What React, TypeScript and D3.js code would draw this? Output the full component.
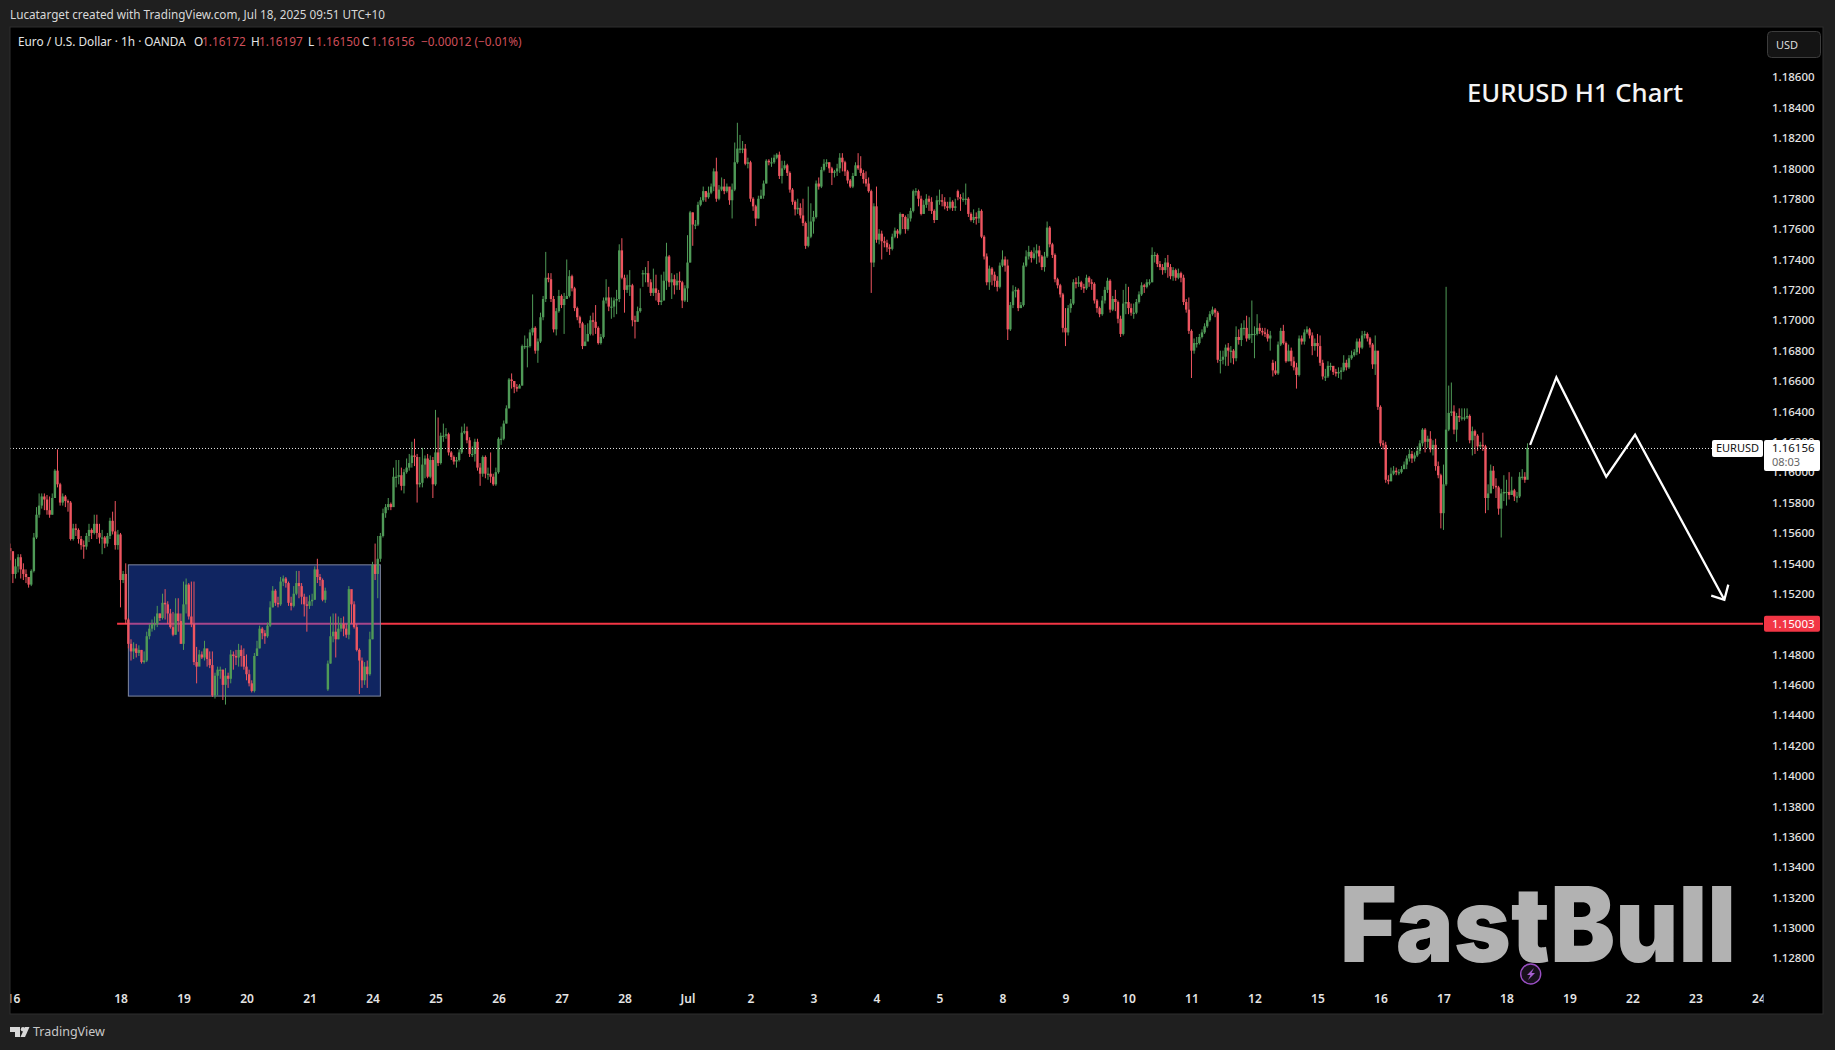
import React, { useEffect, useRef } from 'react';
import * as d3 from 'd3';

// prices are stored as pips above 1.10000 (1.1616 -> 616)
const PIP_BASE = 1.1;
const FIRST_BAR = -42;

const closes = [
  548,533,538,544,536,533,531,526,535,557,
  572,578,584,582,575,572,583,601,592,580,
  584,581,580,556,563,562,556,552,551,558,
  562,560,566,560,557,557,553,558,568,561,
  552,559,529,533,503,487,482,484,481,483,
  475,476,492,497,500,500,507,504,514,513,
  507,498,493,507,502,487,513,526,505,500,
  475,472,480,478,484,477,473,453,466,470,
  470,460,466,464,480,479,478,483,479,472,
  467,461,456,479,484,497,494,492,499,511,
  522,514,513,528,530,527,514,512,520,527,
  525,518,513,512,515,516,536,531,529,516,
  522,474,492,495,490,497,500,497,493,523,
  513,498,483,476,463,472,467,490,539,533,
  543,558,573,577,579,577,597,597,598,591,
  600,603,606,611,610,592,593,605,609,597,
  608,592,613,606,624,624,625,613,610,607,
  608,613,626,627,621,612,612,620,603,599,
  610,599,599,597,592,600,622,622,632,642,
  661,660,656,655,657,683,683,683,692,695,
  680,686,702,714,728,727,714,694,706,716,
  710,714,716,729,721,708,702,698,683,686,
  691,700,699,695,685,689,713,715,709,709,
  713,714,746,728,720,723,723,700,699,706,
  708,731,731,725,718,721,718,712,713,726,
  742,725,727,723,726,725,713,721,738,771,
  763,763,776,779,785,781,784,788,798,780,
  786,788,785,788,779,786,804,813,813,813,
  803,804,780,775,767,780,782,790,805,804,
  804,807,809,795,800,802,797,786,778,773,
  774,769,764,749,755,765,768,790,788,799,
  803,804,800,797,798,800,807,804,798,792,
  788,795,802,800,797,793,790,785,738,775,
  753,757,752,751,748,747,755,759,757,770,
  768,760,767,772,785,785,780,770,776,780,
  778,772,766,779,779,778,775,774,778,774,
  775,781,780,780,780,770,766,768,767,772,
  755,742,725,734,730,726,722,736,740,736,
  694,710,719,720,708,710,736,742,745,741,
  744,746,742,735,742,761,750,743,727,723,
  717,695,692,708,711,725,724,725,722,721,
  728,725,724,713,708,704,713,720,726,707,
  714,712,701,691,711,712,708,705,705,712,
  717,723,722,725,725,743,743,737,735,733,
  738,735,729,733,728,731,728,712,707,693,
  680,685,685,689,692,696,700,704,707,705,
  674,674,676,682,680,680,675,689,687,695,
  695,688,691,691,691,695,693,692,691,688,
  690,667,665,684,693,685,673,680,673,669,
  664,688,686,692,694,690,683,685,683,672,
  663,663,670,670,666,665,666,667,672,669,
  675,677,679,686,682,690,691,688,684,671,
  680,643,619,618,595,594,599,601,600,600,
  602,605,609,612,609,611,614,619,628,620,
  622,615,618,604,598,573,592,628,639,640,
  628,637,636,636,636,637,621,627,624,617,
  618,617,583,586,601,591,590,576,586,587,
  587,585,588,584,584,597,597,595,616,
];

const highs = [
  553,540,543,546,546,540,536,531,536,560,
  577,586,586,586,585,584,586,602,615,593,
  586,585,582,581,566,566,563,558,555,560,
  566,563,572,572,566,562,558,560,570,574,
  581,562,560,535,540,504,490,488,487,486,
  483,482,495,500,503,505,512,507,520,523,
  515,510,508,517,517,507,528,530,527,528,
  528,485,483,482,489,483,482,482,468,472,
  472,470,471,468,483,482,483,487,486,484,
  480,470,463,481,489,499,498,496,501,515,
  525,523,518,531,532,531,528,518,525,535,
  535,527,520,518,519,520,538,543,533,530,
  524,476,505,507,507,505,504,505,500,525,
  520,515,500,484,478,475,476,495,541,553,
  558,560,576,579,583,580,603,608,608,603,
  602,609,612,620,622,612,610,616,611,612,
  611,610,641,636,626,632,629,626,614,611,
  610,615,630,632,630,623,617,622,622,606,
  611,611,603,613,599,603,623,630,634,644,
  662,665,660,658,658,684,690,688,694,717,
  696,688,705,716,745,731,731,716,708,720,
  717,718,740,733,730,722,709,703,699,697,
  698,703,705,710,696,691,715,727,722,715,
  715,720,750,754,730,730,733,724,703,709,
  721,733,735,739,727,734,730,720,730,732,
  751,743,731,730,731,732,726,723,756,772,
  771,766,778,781,788,785,788,790,800,807,
  789,794,793,790,787,790,817,830,822,818,
  816,807,805,781,776,782,786,792,806,806,
  807,809,810,811,805,805,803,798,787,779,
  780,777,780,765,788,777,772,792,794,801,
  806,806,804,801,799,803,810,810,805,799,
  793,797,804,810,808,799,798,794,786,777,
  788,760,759,755,753,750,757,761,760,771,
  770,769,770,774,786,787,786,782,779,783,
  782,781,773,782,786,783,781,778,781,779,
  780,786,783,784,790,781,771,773,771,774,
  773,756,744,736,735,732,729,738,746,742,
  740,712,723,722,721,712,738,746,749,746,
  748,750,749,743,745,765,762,751,744,728,
  724,718,708,710,714,727,728,729,726,724,
  730,729,727,725,714,709,716,722,728,727,
  716,720,713,703,720,724,722,711,711,714,
  719,725,724,727,727,748,745,744,739,737,
  741,743,737,735,734,734,732,730,714,715,
  694,688,689,691,694,698,702,706,709,708,
  706,680,680,684,685,683,681,696,694,698,
  700,703,702,713,696,704,698,695,695,694,
  693,674,673,686,695,697,686,684,682,676,
  672,690,690,694,696,695,692,688,691,690,
  674,668,673,672,669,668,669,669,677,674,
  677,680,681,688,688,693,693,692,689,685,
  690,678,644,621,620,598,603,604,603,602,
  604,607,611,615,614,613,617,621,629,629,
  624,627,621,622,607,599,605,722,657,659,
  644,639,642,642,642,642,638,630,628,625,
  620,626,618,592,605,604,596,591,589,598,
  595,600,597,589,587,600,602,600,619,
];

const lows = [
  542,527,530,534,530,529,527,524,525,534,
  556,570,576,575,572,570,572,583,590,578,
  578,577,574,555,555,558,553,549,543,549,
  554,556,559,556,553,546,550,551,556,559,
  549,549,511,527,500,484,476,477,478,479,
  474,474,475,490,495,496,498,502,503,503,
  500,497,492,493,495,487,483,507,503,498,
  473,461,473,477,476,472,471,452,451,453,
  464,450,447,458,461,470,473,472,472,470,
  463,459,455,455,479,484,490,487,491,498,
  511,512,511,512,525,524,512,509,511,519,
  517,513,505,495,510,512,516,527,525,515,
  514,456,474,488,478,490,495,492,491,490,
  500,497,482,454,458,460,458,466,490,529,
  517,541,557,570,575,575,578,590,592,588,
  586,599,601,603,604,580,590,590,596,596,
  596,583,591,604,605,620,622,611,608,605,
  603,607,612,625,619,610,610,607,601,591,
  597,596,595,593,591,591,599,618,621,632,
  642,655,652,653,656,657,681,669,682,690,
  678,672,685,700,712,725,712,692,690,705,
  708,691,714,715,719,706,700,695,681,684,
  688,690,690,691,684,684,688,711,706,701,
  702,704,712,727,705,718,716,696,688,699,
  705,722,725,722,716,716,713,710,710,713,
  720,722,714,717,720,720,708,712,712,738,
  749,760,762,775,778,778,780,783,785,778,
  779,785,783,784,776,767,785,803,810,810,
  802,800,778,772,762,767,780,780,790,802,
  801,803,806,793,790,799,795,784,776,769,
  770,767,762,747,748,754,757,767,786,787,
  798,801,797,789,794,795,797,798,795,790,
  787,787,795,799,795,790,788,784,718,735,
  751,750,740,748,745,743,746,754,754,756,
  760,757,759,765,771,782,775,769,770,774,
  772,770,764,768,776,775,773,772,773,772,
  772,779,772,778,776,768,765,764,763,764,
  754,740,723,720,723,722,719,721,735,732,
  687,693,708,715,706,708,709,735,740,738,
  740,737,738,733,732,741,748,741,725,721,
  715,692,683,690,705,710,721,722,720,718,
  720,722,720,711,705,702,703,711,718,705,
  706,706,698,689,690,704,704,703,701,704,
  711,716,718,721,723,725,738,735,733,730,
  731,728,727,726,726,727,725,710,705,691,
  662,678,682,684,688,691,695,699,703,702,
  672,665,671,670,670,672,671,673,684,683,
  690,686,687,685,675,690,691,690,689,686,
  680,663,664,664,683,684,672,673,670,667,
  655,663,684,684,691,688,677,680,676,670,
  661,660,662,667,664,663,662,661,666,667,
  668,674,676,677,678,681,688,686,682,668,
  664,641,617,615,593,592,594,598,598,598,
  599,602,602,607,606,607,610,612,617,613,
  616,613,611,601,596,563,562,591,627,637,
  625,620,633,634,634,635,619,611,612,614,
  616,614,573,575,589,589,583,572,557,581,
  578,582,585,581,580,583,595,593,597,
];

// weekly opens that do not start at the previous close
const gapBars = [79, 199, 319, 439];
const gapOpens = [457, 731, 785, 672];

const priceTicks = d3.range(0, 30).map(n => 1.128 + n * 0.002);
const dayLabels = ['16','18','19','20','21','24','25','26','27','28','Jul','2','3','4','5','8','9','10','11','12','15','16','17','18','19','22','23','24'];
const dayBars = [-41, 0, 24, 48, 72, 96, 120, 144, 168, 192, 216, 240, 264, 288, 312, 336, 360, 384, 408, 432, 456, 480, 504, 528, 552, 576, 600, 624];

const lastPrice = 1.16156;
const targetPrice = 1.15003;

// range box
const boxBars = [3, 99];
const boxPrices = [1.1539, 1.14526];
const targetLineStart = -1.3;

// drawn projection
const forecastBars = [537, 547, 566, 577, 611];
const forecastPrices = [1.1618, 1.16624, 1.1597, 1.16247, 1.1516];
const arrowBars = [606, 611, 612.5];
const arrowPrices = [1.15187, 1.1516, 1.1526];

const legendParts = [
  { x: 18, text: 'Euro / U.S. Dollar · 1h · OANDA', red: false },
  { x: 194, text: 'O', red: false },
  { x: 202, text: '1.16172', red: true },
  { x: 251, text: 'H', red: false },
  { x: 259, text: '1.16197', red: true },
  { x: 308, text: 'L', red: false },
  { x: 316, text: '1.16150', red: true },
  { x: 362, text: 'C', red: false },
  { x: 371, text: '1.16156', red: true },
  { x: 421, text: '−0.00012 (−0.01%)', red: true },
];

const UP = '#4f9a57';
const DOWN = '#ee5560';
const FONT = '"Noto Sans", "Open Sans", sans-serif';

const App: React.FC = () => {
  const svgRef = useRef<SVGSVGElement>(null);

  useEffect(() => {
    if (!svgRef.current) return;
    const svg = d3.select(svgRef.current);
    svg.selectAll('*').remove();

    const panel = { left: 10, top: 27, right: 1823, bottom: 1014 };
    const axisLeft = 1763;

    const x = d3.scaleLinear().domain([FIRST_BAR, 625]).range([10.25, 1761.1]);
    const y = d3.scaleLinear().domain([1.186, 1.128]).range([77.2, 958.3]);
    const py = (pips: number) => y(PIP_BASE + pips / 10000);

    const defs = svg.append('defs');
    defs.append('clipPath').attr('id', 'plot')
      .append('rect').attr('x', panel.left + 0.5).attr('y', panel.top)
      .attr('width', axisLeft - panel.left).attr('height', panel.bottom - panel.top);
    defs.append('clipPath').attr('id', 'timeAxis')
      .append('rect').attr('x', panel.left + 0.5).attr('y', 985)
      .attr('width', axisLeft - panel.left).attr('height', 28);

    // page and panel
    svg.append('rect').attr('width', 1835).attr('height', 1050).attr('fill', '#1f1f1f');
    svg.append('rect')
      .attr('x', panel.left).attr('y', panel.top)
      .attr('width', panel.right - panel.left).attr('height', panel.bottom - panel.top)
      .attr('fill', '#000').attr('stroke', '#2e2e2e');

    svg.append('text').attr('x', 10).attr('y', 18.5)
      .attr('textLength', 375).attr('lengthAdjust', 'spacingAndGlyphs')
      .attr('fill', '#d8d8d8').style('font', `11.7px ${FONT}`)
      .text('Lucatarget created with TradingView.com, Jul 18, 2025 09:51 UTC+10');

    svg.append('g').selectAll('text').data(legendParts).join('text')
      .attr('x', d => d.x).attr('y', 45.5)
      .attr('fill', d => (d.red ? '#cf4f5a' : '#e6e6e6'))
      .style('font', `11.8px ${FONT}`)
      .text(d => d.text);

    const plot = svg.append('g').attr('clip-path', 'url(#plot)');

    // target line goes under the box, so it turns purple inside
    plot.append('line')
      .attr('x1', x(targetLineStart)).attr('x2', axisLeft)
      .attr('y1', y(targetPrice)).attr('y2', y(targetPrice))
      .attr('stroke', '#f23645').attr('stroke-width', 2);

    plot.append('rect')
      .attr('x', x(boxBars[0])).attr('y', y(boxPrices[0]))
      .attr('width', x(boxBars[1]) - x(boxBars[0]))
      .attr('height', y(boxPrices[1]) - y(boxPrices[0]))
      .attr('fill', 'rgba(41,98,255,0.38)')
      .attr('stroke', '#8088a0').attr('stroke-width', 1);

    // candles
    const candles = closes.map((close, i) => {
      const bar = FIRST_BAR + i;
      const gap = gapBars.indexOf(bar);
      const open = gap >= 0 ? gapOpens[gap] : i > 0 ? closes[i - 1] : close + 2;
      return { bar, open, close, high: highs[i], low: lows[i] };
    });
    const bodyW = 2.4;
    const candleG = plot.append('g');
    candleG.selectAll('line').data(candles).join('line')
      .attr('x1', d => x(d.bar)).attr('x2', d => x(d.bar))
      .attr('y1', d => py(d.high)).attr('y2', d => py(d.low))
      .attr('stroke', d => (d.close >= d.open ? UP : DOWN))
      .attr('stroke-width', 1);
    candleG.selectAll('rect').data(candles).join('rect')
      .attr('x', d => x(d.bar) - bodyW / 2)
      .attr('width', bodyW)
      .attr('y', d => py(Math.max(d.open, d.close)))
      .attr('height', d => Math.max(1.2, Math.abs(py(d.open) - py(d.close))))
      .attr('fill', d => (d.close >= d.open ? UP : DOWN));

    // last price line
    plot.append('line')
      .attr('x1', panel.left).attr('x2', 1712)
      .attr('y1', y(lastPrice)).attr('y2', y(lastPrice))
      .attr('stroke', '#e8e8e8').attr('stroke-width', 1).attr('stroke-dasharray', '1 2');

    // projection arrow
    const path = d3.line<number>().x(d => x(forecastBars[d])).y(d => y(forecastPrices[d]));
    plot.append('path')
      .attr('d', path(d3.range(forecastBars.length)))
      .attr('fill', 'none').attr('stroke', '#fff').attr('stroke-width', 2.3);
    const head = d3.line<number>().x(d => x(arrowBars[d])).y(d => y(arrowPrices[d]));
    plot.append('path')
      .attr('d', head(d3.range(arrowBars.length)))
      .attr('fill', 'none').attr('stroke', '#fff').attr('stroke-width', 2.3);

    // watermark
    svg.append('text')
      .attr('x', 1340).attr('y', 962)
      .attr('textLength', 396).attr('lengthAdjust', 'spacingAndGlyphs')
      .attr('fill', '#b2b2b2')
      .style('font', '900 104px Inter, Lato, sans-serif')
      .text('FastBull');
    svg.append('circle').attr('cx', 1530.7).attr('cy', 974).attr('r', 10)
      .attr('fill', '#17101c').attr('stroke', '#9a4fc4').attr('stroke-width', 1.4);
    svg.append('path').attr('d', 'M1534 968 L1527 975 L1530.5 975 L1528 980 L1535 973 L1531.5 973 Z')
      .attr('fill', '#a65fd0');

    // title
    svg.append('text').attr('x', 1467).attr('y', 102)
      .attr('textLength', 216).attr('lengthAdjust', 'spacingAndGlyphs')
      .attr('fill', '#f4f4f4').style('font', `500 26px ${FONT}`)
      .text('EURUSD H1 Chart');

    // axes
    const yAxis = svg.append('g')
      .attr('transform', 'translate(1765,0)')
      .call(d3.axisRight(y).tickValues(priceTicks).tickSize(0).tickPadding(7).tickFormat(d3.format('.5f') as any));
    yAxis.select('.domain').remove();
    yAxis.selectAll('text').attr('fill', '#e4e4e4').style('font', `500 11.5px ${FONT}`);

    const xAxis = svg.append('g')
      .attr('clip-path', 'url(#timeAxis)')
      .append('g')
      .attr('transform', 'translate(0,988)')
      .call(d3.axisBottom(x).tickValues(dayBars).tickSize(0).tickPadding(6)
        .tickFormat((_, i) => dayLabels[i]));
    xAxis.select('.domain').remove();
    xAxis.selectAll('text').attr('fill', '#e4e4e4').style('font', `600 12px ${FONT}`);

    // currency button
    svg.append('rect').attr('x', 1767.5).attr('y', 31.5).attr('width', 53).attr('height', 26).attr('rx', 4)
      .attr('fill', '#141414').attr('stroke', '#3c3c3c');
    svg.append('text').attr('x', 1776).attr('y', 48.5).attr('fill', '#dcdcdc')
      .style('font', `11px ${FONT}`).text('USD');

    // price tags
    const lastY = y(lastPrice);
    svg.append('rect').attr('x', 1712).attr('y', lastY - 8.5).attr('width', 51).attr('height', 17).attr('rx', 2).attr('fill', '#fff');
    svg.append('text').attr('x', 1737.5).attr('y', lastY + 4).attr('text-anchor', 'middle').attr('fill', '#111')
      .style('font', `11px ${FONT}`).text('EURUSD');
    svg.append('rect').attr('x', 1764).attr('y', lastY - 8.5).attr('width', 56).attr('height', 31).attr('rx', 2).attr('fill', '#fff');
    svg.append('text').attr('x', 1772).attr('y', lastY + 4).attr('fill', '#111')
      .style('font', `11.5px ${FONT}`).text(d3.format('.5f')(lastPrice));
    svg.append('text').attr('x', 1772).attr('y', lastY + 18).attr('fill', '#666')
      .style('font', `11px ${FONT}`).text('08:03');

    const targetY = y(targetPrice);
    svg.append('rect').attr('x', 1764).attr('y', targetY - 8).attr('width', 56).attr('height', 16).attr('rx', 2).attr('fill', '#f23645');
    svg.append('text').attr('x', 1772).attr('y', targetY + 4).attr('fill', '#fff')
      .style('font', `11.5px ${FONT}`).text(d3.format('.5f')(targetPrice));

    // footer logo
    const logo = svg.append('g').attr('fill', '#d8d8d8');
    logo.append('path').attr('d', 'M10 1027 H20 V1037 H15 V1032 H10 Z');
    logo.append('circle').attr('cx', 23).attr('cy', 1029.3).attr('r', 2.2);
    logo.append('path').attr('d', 'M25 1027 H29.5 L25 1037 H20.5 Z');
    svg.append('text').attr('x', 33).attr('y', 1036).attr('fill', '#c8c8c8')
      .style('font', `12.5px ${FONT}`).text('TradingView');
  }, []);

  return (
    <svg
      ref={svgRef}
      width={1835}
      height={1050}
      style={{ position: 'fixed', left: 0, top: 0, display: 'block' }}
    />
  );
};

export default App;
